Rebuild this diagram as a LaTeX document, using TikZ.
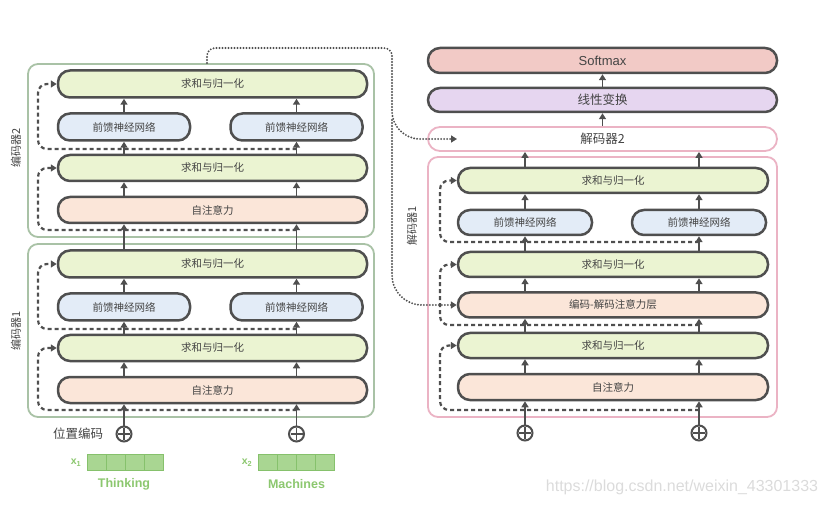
\documentclass[tikz,border=0pt]{standalone}
\usepackage{fontspec}
\setmainfont{Liberation Sans}
\newfontfamily\cjk{Noto Sans CJK SC}
\usetikzlibrary{arrows.meta,calc}
\definecolor{linec}{HTML}{4F4F4F}
\definecolor{textc}{HTML}{444444}
\definecolor{addc}{HTML}{EBF4D2}
\definecolor{ffnc}{HTML}{E3ECF7}
\definecolor{attc}{HTML}{FBE6D9}
\definecolor{softc}{HTML}{F2CAC6}
\definecolor{linc}{HTML}{E6D6F0}
\definecolor{encc}{HTML}{A9C2A6}
\definecolor{decc}{HTML}{EBB3C4}
\definecolor{cellc}{HTML}{A9D692}
\definecolor{cellb}{HTML}{86C16C}
\definecolor{greent}{HTML}{8CC76F}
\begin{document}
\begin{tikzpicture}[x=1pt,y=-1pt,
  lay/.style={draw=linec, line width=2.5pt, rounded corners=12pt, inner sep=0pt, text=textc, font=\cjk\fontsize{10.5}{12}\selectfont},
  bigl/.style={lay, font=\cjk\fontsize{12.5}{14}\selectfont},
  outerbox/.style={line width=1.8pt, rounded corners=10pt, inner sep=0pt},
  arr/.style={draw=linec, line width=1.9pt, -{Triangle[length=6pt,width=7pt]}},
  res/.style={draw=linec, line width=2.2pt, dash pattern=on 4pt off 3pt, rounded corners=9pt, -{Triangle[length=6pt,width=7pt]}},
  dotl/.style={draw=linec, line width=2.1pt, line cap=round, dash pattern=on 0pt off 3pt, -{Triangle[length=6pt,width=7pt]}},
  plus/.style={circle, draw=linec, line width=2pt, minimum size=15pt, inner sep=0pt},
  cell/.style={draw=cellb, fill=cellc, line width=0.8pt, minimum width=19pt, minimum height=16pt, inner sep=0pt},
  side/.style={text=textc, font=\cjk\fontsize{11}{12}\selectfont, rotate=90},
  word/.style={text=greent, font=\bfseries\fontsize{12.5}{14}\selectfont}
]
\useasboundingbox (0,0) rectangle (828,505);

% ---------------- Encoders ----------------
\foreach \p/\o in {b/0,a/180}{
  \node[outerbox, draw=encc, minimum width=346pt, minimum height=173pt] (enc\p) at (201,150.5+\o) {};
  \node[lay, fill=addc, minimum width=309pt, minimum height=27pt] (an2\p) at (212.5,84+\o) {求和与归一化};
  \node[lay, fill=ffnc, minimum width=132pt, minimum height=27pt] (fl\p) at (124,127+\o) {前馈神经网络};
  \node[lay, fill=ffnc, minimum width=132pt, minimum height=27pt] (fr\p) at (296.5,127+\o) {前馈神经网络};
  \node[lay, fill=addc, minimum width=309pt, minimum height=26pt] (an1\p) at (212.5,168+\o) {求和与归一化};
  \node[lay, fill=attc, minimum width=309pt, minimum height=26pt] (sa\p) at (212.5,210+\o) {自注意力};
  \foreach \c in {fl\p,fr\p}{
    \draw[arr] (sa\p.north -| \c) -- (an1\p.south -| \c);
    \draw[arr] (an1\p.north -| \c) -- (\c.south);
    \draw[arr] (\c.north) -- (an2\p.south -| \c);
  }
  \coordinate (r1\p) at (296.5,230+\o);
  \coordinate (r2\p) at (296.5,149+\o);
  \draw[res] (r1\p) -- (38,230+\o) -- (38,168+\o) -- (an1\p.west);
  \draw[res] (r2\p) -- (38,149+\o) -- (38,84+\o) -- (an2\p.west);
}
\node[side] (lb) at (16,148) {编码器2};
\node[side] (la) at (16,331) {编码器1};
\foreach \c in {fla,fra}{
  \draw[arr] (an2a.north -| \c) -- (sab.south -| \c);
}

% inputs
\node[plus] (p1) at (124,434) {};
\node[plus] (p2) at (296.5,434) {};
\foreach \q in {p1,p2}{
  \draw[linec, line width=1.6pt] ($(\q.north)+(0,2.5)$) -- ($(\q.south)+(0,-2.5)$) ($(\q.west)+(2.5,0)$) -- ($(\q.east)+(-2.5,0)$);
}
\draw[arr] (p1.north) -- (saa.south -| p1);
\draw[arr] (p2.north) -- (saa.south -| p2);
\node[text=textc, font=\cjk\fontsize{12.5}{14}\selectfont] (pos) at (78,434) {位置编码};

\foreach \i in {0,1,2,3}{
  \node[cell] (xa\i) at (96.5+19*\i,462) {};
  \node[cell] (xb\i) at (267.5+19*\i,462) {};
}
\node[text=greent, font=\bfseries\fontsize{10.5}{12}\selectfont] (x1) at (76,463) {x\textsubscript{1}};
\node[text=greent, font=\bfseries\fontsize{10.5}{12}\selectfont] (x2) at (247,463) {x\textsubscript{2}};
\node[word] (w1) at (124,484) {Thinking};
\node[word] (w2) at (296.5,484) {Machines};

% ---------------- Decoder ----------------
\node[lay, fill=softc, minimum width=349pt, minimum height=25pt, font=\fontsize{13}{15}\selectfont] (sm) at (602.5,60.5) {Softmax};
\node[bigl, fill=linc, minimum width=349pt, minimum height=24pt] (lin) at (602.5,100) {线性变换};
\node[bigl, draw=decc, line width=1.8pt, fill=white, minimum width=349pt, minimum height=24pt] (dec2) at (602.5,139) {解码器2};
\node[outerbox, draw=decc, minimum width=349pt, minimum height=260pt] (dec1) at (602.5,287) {};
\node[side] (ld) at (412,226) {解码器1};

\node[lay, fill=addc, minimum width=310pt, minimum height=25pt] (dan3) at (613,180.5) {求和与归一化};
\node[lay, fill=ffnc, minimum width=134pt, minimum height=25pt] (dfl) at (525,222.5) {前馈神经网络};
\node[lay, fill=ffnc, minimum width=134pt, minimum height=25pt] (dfr) at (699,222.5) {前馈神经网络};
\node[lay, fill=addc, minimum width=310pt, minimum height=25pt] (dan2) at (613,264.5) {求和与归一化};
\node[lay, fill=attc, minimum width=310pt, minimum height=25pt] (ded) at (613,305) {编码-解码注意力层};
\node[lay, fill=addc, minimum width=310pt, minimum height=25pt] (dan1) at (613,345.5) {求和与归一化};
\node[lay, fill=attc, minimum width=310pt, minimum height=26pt] (dsa) at (613,387) {自注意力};

\node[plus] (p3) at (525,433) {};
\node[plus] (p4) at (699,433) {};
\foreach \q in {p3,p4}{
  \draw[linec, line width=1.6pt] ($(\q.north)+(0,2.5)$) -- ($(\q.south)+(0,-2.5)$) ($(\q.west)+(2.5,0)$) -- ($(\q.east)+(-2.5,0)$);
}
\foreach \c in {p3,p4}{
  \draw[arr] (\c.north) -- (dsa.south -| \c);
  \draw[arr] (dsa.north -| \c) -- (dan1.south -| \c);
  \draw[arr] (dan1.north -| \c) -- (ded.south -| \c);
  \draw[arr] (ded.north -| \c) -- (dan2.south -| \c);
  \draw[arr] (dan2.north -| \c) -- (dfl.south -| \c);
  \draw[arr] (dfl.north -| \c) -- (dan3.south -| \c);
  \draw[arr] (dan3.north -| \c) -- (dec2.south -| \c);
}
\draw[arr] (dec2.north) -- (lin.south);
\draw[arr] (lin.north) -- (sm.south);

\coordinate (dr1) at (699,410);
\coordinate (dr2) at (699,325);
\coordinate (dr3) at (699,242);
\draw[res] (dr1) -- (440,410) -- (440,345.5) -- (dan1.west);
\draw[res] (dr2) -- (440,325) -- (440,264.5) -- (dan2.west);
\draw[res] (dr3) -- (440,242) -- (440,180.5) -- (dan3.west);

% encoder output (dotted)
\coordinate (ds) at (207,63);
\coordinate (d2in) at (457,139);
\draw[dotl, rounded corners=8pt] (ds) -- (207,48) -- (392,48) [rounded corners=28pt] -- (392,139) -- (d2in);
\draw[dotl, rounded corners=30pt] (392,120) -- (392,305) -- (ded.west);

\node[text=black!14, font=\fontsize{16}{18}\selectfont] (wm) at (682,487) {https://blog.csdn.net/weixin\_43301333};
\end{tikzpicture}
\end{document}
